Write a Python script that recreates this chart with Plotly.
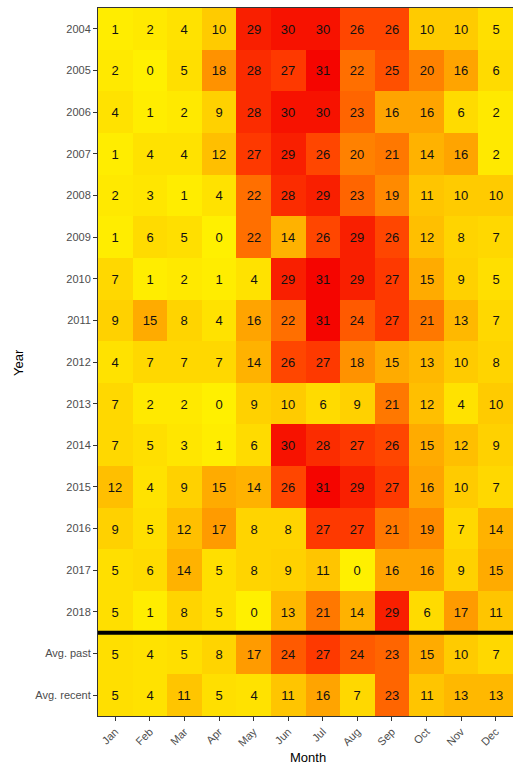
import plotly.graph_objects as go

months = ["Jan", "Feb", "Mar", "Apr", "May", "Jun", "Jul", "Aug", "Sep", "Oct", "Nov", "Dec"]
rows = ["2004", "2005", "2006", "2007", "2008", "2009", "2010", "2011", "2012",
        "2013", "2014", "2015", "2016", "2017", "2018", "Avg. past", "Avg. recent"]

v2004 = [1, 2, 4, 10, 29, 30, 30, 26, 26, 10, 10, 5]
v2005 = [2, 0, 5, 18, 28, 27, 31, 22, 25, 20, 16, 6]
v2006 = [4, 1, 2, 9, 28, 30, 30, 23, 16, 16, 6, 2]
v2007 = [1, 4, 4, 12, 27, 29, 26, 20, 21, 14, 16, 2]
v2008 = [2, 3, 1, 4, 22, 28, 29, 23, 19, 11, 10, 10]
v2009 = [1, 6, 5, 0, 22, 14, 26, 29, 26, 12, 8, 7]
v2010 = [7, 1, 2, 1, 4, 29, 31, 29, 27, 15, 9, 5]
v2011 = [9, 15, 8, 4, 16, 22, 31, 24, 27, 21, 13, 7]
v2012 = [4, 7, 7, 7, 14, 26, 27, 18, 15, 13, 10, 8]
v2013 = [7, 2, 2, 0, 9, 10, 6, 9, 21, 12, 4, 10]
v2014 = [7, 5, 3, 1, 6, 30, 28, 27, 26, 15, 12, 9]
v2015 = [12, 4, 9, 15, 14, 26, 31, 29, 27, 16, 10, 7]
v2016 = [9, 5, 12, 17, 8, 8, 27, 27, 21, 19, 7, 14]
v2017 = [5, 6, 14, 5, 8, 9, 11, 0, 16, 16, 9, 15]
v2018 = [5, 1, 8, 5, 0, 13, 21, 14, 29, 6, 17, 11]
avg_past = [5, 4, 5, 8, 17, 24, 27, 24, 23, 15, 10, 7]
avg_recent = [5, 4, 11, 5, 4, 11, 16, 7, 23, 11, 13, 13]

z = [v2004, v2005, v2006, v2007, v2008, v2009, v2010, v2011, v2012, v2013,
     v2014, v2015, v2016, v2017, v2018, avg_past, avg_recent]

colorscale = [
    [0.0, "#FFF000"],
    [0.3, "#FFD000"],
    [0.5, "#FFA800"],
    [0.7, "#FF7200"],
    [0.85, "#FF4200"],
    [1.0, "#F50500"],
]

FONT = "Liberation Sans, Arial"

fig = go.Figure(go.Heatmap(
    z=z, x=months, y=rows,
    colorscale=colorscale, zmin=0, zmax=31,
    showscale=False,
    texttemplate="%{z}",
    textfont=dict(family=FONT, size=13, color="#111111"),
))

fig.add_shape(type="line", xref="paper", yref="y", x0=0, x1=1, y0=14.5, y1=14.5,
              line=dict(color="black", width=4))

axis_common = dict(
    showline=True, linecolor="#333333", linewidth=1, mirror=True,
    ticks="outside", ticklen=4, tickcolor="#333333", tickwidth=1,
    tickfont=dict(family=FONT, size=11, color="#4D4D4D"),
    showgrid=False, zeroline=False, automargin=False,
)

fig.update_layout(
    width=513, height=766,
    margin=dict(l=98, r=0, t=8, b=50),
    paper_bgcolor="white", plot_bgcolor="white",
    xaxis=dict(tickangle=-45, **axis_common),
    yaxis=dict(autorange="reversed", **axis_common),
    annotations=[
        dict(text="Month", xref="paper", yref="paper", x=0.506, y=-0.058,
             xanchor="center", yanchor="middle", showarrow=False,
             font=dict(family=FONT, size=13, color="black")),
        dict(text="Year", xref="paper", yref="paper", x=-0.193, y=0.5,
             xanchor="center", yanchor="middle", showarrow=False, textangle=-90,
             font=dict(family=FONT, size=13, color="black")),
    ],
)

fig.write_html(
    "out.html",
    config={"displayModeBar": False},
    post_script="document.body.style.margin='0';document.body.style.overflow='hidden';",
)
